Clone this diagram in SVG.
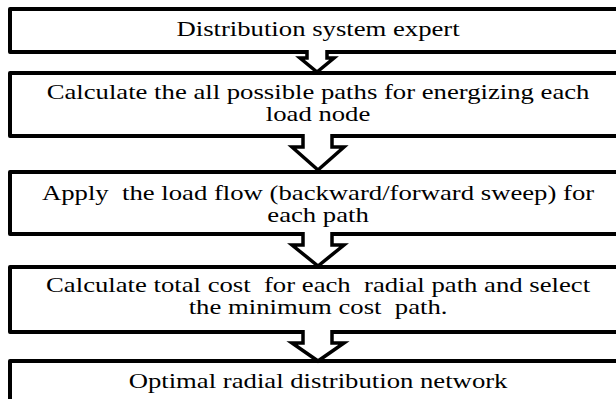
<svg xmlns="http://www.w3.org/2000/svg" width="616" height="399" viewBox="0 0 616 399">
  <style>
    .box { fill: #fff; stroke: #000; stroke-width: 4; stroke-linejoin: round; }
    .lbl { font-family: "Liberation Serif", "Times New Roman", serif; font-size: 22px; fill: #000; text-anchor: middle; white-space: pre; }
    .arrow { fill: #fff; stroke: #000; stroke-width: 3.5; stroke-linejoin: miter; }
  </style>
  <rect width="616" height="399" fill="#fff"/>

  <!-- process steps: boxes run past the right edge; labels are widened horizontally -->
  <g id="step-expert">
    <rect class="box" x="10" y="9" width="630" height="43"/>
    <text class="lbl" x="262" y="36" transform="scale(1.214 1)">Distribution system expert</text>
  </g>
  <g id="step-paths">
    <rect class="box" x="10" y="73" width="630" height="63"/>
    <text class="lbl" x="262" y="99" transform="scale(1.214 1)">Calculate the all possible paths for energizing each</text>
    <text class="lbl" x="262" y="121" transform="scale(1.214 1)">load node</text>
  </g>
  <g id="step-loadflow">
    <rect class="box" x="10" y="172" width="630" height="62"/>
    <text class="lbl" x="262" y="200" transform="scale(1.214 1)">Apply  the load flow (backward/forward sweep) for</text>
    <text class="lbl" x="262" y="222" transform="scale(1.214 1)">each path</text>
  </g>
  <g id="step-cost">
    <rect class="box" x="10" y="267" width="630" height="65"/>
    <text class="lbl" x="262" y="292" transform="scale(1.214 1)">Calculate total cost  for each  radial path and select</text>
    <text class="lbl" x="262" y="314" transform="scale(1.214 1)">the minimum cost  path.</text>
  </g>
  <g id="step-result">
    <rect class="box" x="10" y="361" width="630" height="60"/>
    <text class="lbl" x="262" y="388" transform="scale(1.214 1)">Optimal radial distribution network</text>
  </g>

  <!-- block arrows between steps (open paths: filled, top edge not stroked) -->
  <g id="connectors">
    <path class="arrow" d="M307,50 V58 H300 L317,72 L334,58 H327 V50"/>
    <path class="arrow" d="M303,134 V147 H292 L318,170 L344,147 H332 V134"/>
    <path class="arrow" d="M303,232 V245 H292 L318,266 L344,245 H332 V232"/>
    <path class="arrow" d="M303,330 V343 H292 L318,361 L344,343 H332 V330"/>
  </g>
</svg>
